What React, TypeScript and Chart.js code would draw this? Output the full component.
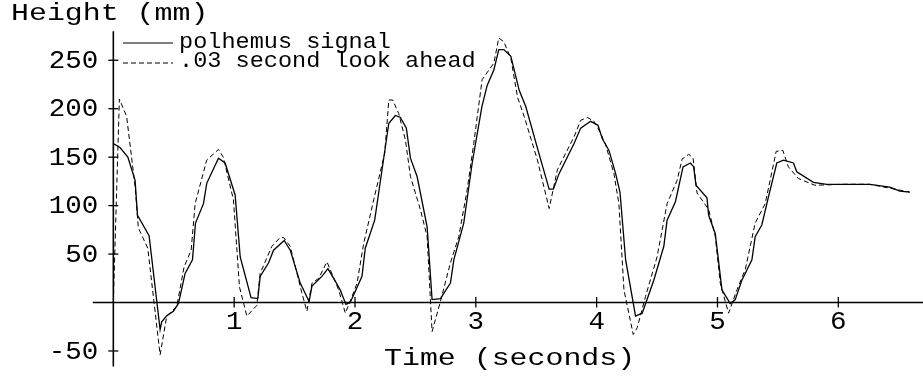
import React, { useEffect, useRef } from "react";
import { Chart, registerables } from "chart.js";

Chart.register(...registerables);

const solidT = [0,0.055,0.12,0.18,0.2,0.296,0.387,0.4,0.44,0.497,0.539,0.594,0.655,0.68,0.746,0.773,0.87,0.925,1.008,1.05,1.14,1.196,1.215,1.285,1.326,1.414,1.464,1.547,1.62,1.644,1.726,1.776,1.837,1.878,1.925,1.96,1.997,2.058,2.085,2.163,2.232,2.28,2.334,2.376,2.425,2.459,2.514,2.597,2.638,2.707,2.79,2.818,2.9,2.97,3.05,3.094,3.149,3.19,3.232,3.29,3.359,3.414,3.538,3.607,3.642,3.689,3.813,3.868,3.95,4.011,4.047,4.102,4.157,4.193,4.24,4.322,4.377,4.473,4.556,4.583,4.652,4.715,4.776,4.803,4.822,4.913,4.927,4.982,5.037,5.106,5.147,5.202,5.285,5.312,5.367,5.422,5.491,5.546,5.629,5.656,5.794,5.904,6.041,6.261,6.426,6.509,6.591];
const solidV = [164,160,150,126,90,69,-28,-20,-14,-9,-1,30,44,82,102,123,149,144,111,47,5,4,27,41,54,64,54,20,1,17,27,35,22,13,-2,0,10,27,56,85,144,185,193,191,180,149,130,78,3,4,20,44,82,144,202,224,240,261,261,254,219,202,147,117,117,133,164,180,187,183,169,157,133,114,44,-14,-11,23,58,85,104,140,144,140,121,108,90,71,13,-1,3,23,44,68,80,109,144,147,144,135,124,122,122,122,119,115,114];

const aheadT = [0,0.05,0.11,0.18,0.207,0.285,0.387,0.442,0.525,0.586,0.644,0.677,0.773,0.87,0.91,0.994,1.044,1.105,1.188,1.215,1.312,1.38,1.41,1.464,1.56,1.602,1.644,1.7,1.768,1.865,1.92,1.975,2.017,2.072,2.155,2.246,2.28,2.312,2.362,2.417,2.459,2.541,2.597,2.638,2.707,2.79,2.859,2.928,2.983,3.052,3.149,3.19,3.232,3.29,3.345,3.4,3.51,3.607,3.675,3.813,3.868,3.923,3.978,4.028,4.074,4.143,4.184,4.226,4.303,4.336,4.404,4.5,4.583,4.666,4.707,4.762,4.798,4.831,4.927,4.982,5.023,5.092,5.161,5.23,5.312,5.395,5.486,5.541,5.587,5.669,5.806,6.04,6.261,6.426,6.591];
const aheadV = [0,210,192,120,77,56,-54,-14,-4,37,54,102,147,158,150,106,16,-14,-3,30,58,67,67,58,10,-9,20,25,42,13,-11,6,20,61,106,154,209,209,195,168,130,96,68,-30,1,41,68,116,164,230,247,273,269,252,212,192,147,97,137,171,188,191,187,176,163,133,102,13,-33,-26,6,47,102,126,148,153,149,113,96,68,20,-11,13,34,82,102,156,157,140,128,121,122,122,118,114];

const xTicks = [1, 2, 3, 4, 5, 6];
const yTicks = [-50, 50, 100, 150, 200, 250];
const seriesNames = ["polhemus signal", ".03 second look ahead"];
const xTitle = "Time (seconds)";
const yTitle = "Height (mm)";

const FONT = '"Liberation Mono", "DejaVu Sans Mono", monospace';

function drawText(ctx: CanvasRenderingContext2D, text: string, x: number, y: number, size: number, sx: number, align: CanvasTextAlign) {
  ctx.save();
  ctx.font = `${size}px ${FONT}`;
  ctx.textBaseline = "middle";
  ctx.textAlign = align;
  ctx.translate(x, y);
  ctx.scale(sx, 1);
  ctx.fillStyle = "#000";
  ctx.fillText(text, 0, 0);
  ctx.restore();
}

const axesPlugin = {
  id: "crossAxes",
  afterDatasetsDraw(chart: any) {
    const ctx: CanvasRenderingContext2D = chart.ctx;
    const xs = chart.scales.x;
    const ys = chart.scales.y;
    const x0 = xs.getPixelForValue(0);
    const y0 = ys.getPixelForValue(0);
    ctx.save();
    ctx.strokeStyle = "#000";
    ctx.lineWidth = 1.6;
    // y axis
    ctx.beginPath();
    ctx.moveTo(x0, ys.getPixelForValue(280));
    ctx.lineTo(x0, ys.getPixelForValue(-66));
    ctx.stroke();
    // x axis
    ctx.beginPath();
    ctx.moveTo(xs.getPixelForValue(-0.17), y0);
    ctx.lineTo(xs.getPixelForValue(6.75), y0);
    ctx.stroke();
    ctx.lineWidth = 1.3;
    for (const t of xTicks) {
      const px = xs.getPixelForValue(t);
      ctx.beginPath();
      ctx.moveTo(px, y0 - 5.5);
      ctx.lineTo(px, y0 + 5);
      ctx.stroke();
      drawText(ctx, String(t), px, y0 + 20, 25, 1.1, "center");
    }
    for (const v of yTicks) {
      const py = ys.getPixelForValue(v);
      ctx.beginPath();
      ctx.moveTo(x0 - 5, py);
      ctx.lineTo(x0 + 5, py);
      ctx.stroke();
      drawText(ctx, String(v), x0 - 15, py + 1, 25, 1.1, "right");
    }
    drawText(ctx, yTitle, 11, 14, 23, 1.3, "left");
    drawText(ctx, xTitle, 384, 359, 23, 1.3, "left");
    // legend
    ctx.lineWidth = 1.2;
    ctx.beginPath();
    ctx.moveTo(123, 43);
    ctx.lineTo(173, 43);
    ctx.stroke();
    ctx.setLineDash([5, 3]);
    ctx.beginPath();
    ctx.moveTo(123, 63);
    ctx.lineTo(173, 63);
    ctx.stroke();
    ctx.setLineDash([]);
    drawText(ctx, seriesNames[0], 179, 42, 22, 1.07, "left");
    drawText(ctx, seriesNames[1], 179, 61, 22, 1.07, "left");
    ctx.restore();
  },
};

export default function App() {
  const ref = useRef<HTMLCanvasElement | null>(null);
  useEffect(() => {
    document.body.style.margin = "0";
    const canvas = ref.current!;
    const chart = new Chart(canvas, {
      type: "line",
      data: {
        datasets: [
          {
            label: seriesNames[0],
            data: solidT.map((t, i) => ({ x: t, y: solidV[i] })),
            borderColor: "#000",
            borderWidth: 1.3,
            pointRadius: 0,
            tension: 0,
            fill: false,
          },
          {
            label: seriesNames[1],
            data: aheadT.map((t, i) => ({ x: t, y: aheadV[i] })),
            borderColor: "#000",
            borderWidth: 1,
            borderDash: [5, 3],
            pointRadius: 0,
            tension: 0,
            fill: false,
          },
        ],
      },
      options: {
        animation: false,
        responsive: false,
        devicePixelRatio: 1,
        layout: { padding: 0 },
        plugins: { legend: { display: false }, tooltip: { enabled: false } },
        scales: {
          x: { type: "linear", display: false, min: -0.938, max: 6.701 },
          y: { type: "linear", display: false, min: -75.85, max: 312.2 },
        },
      },
      plugins: [axesPlugin],
    });
    return () => chart.destroy();
  }, []);
  return (
    <canvas ref={ref} width={923} height={376} style={{ display: "block", width: 923, height: 376, background: "#fff" }} />
  );
}
